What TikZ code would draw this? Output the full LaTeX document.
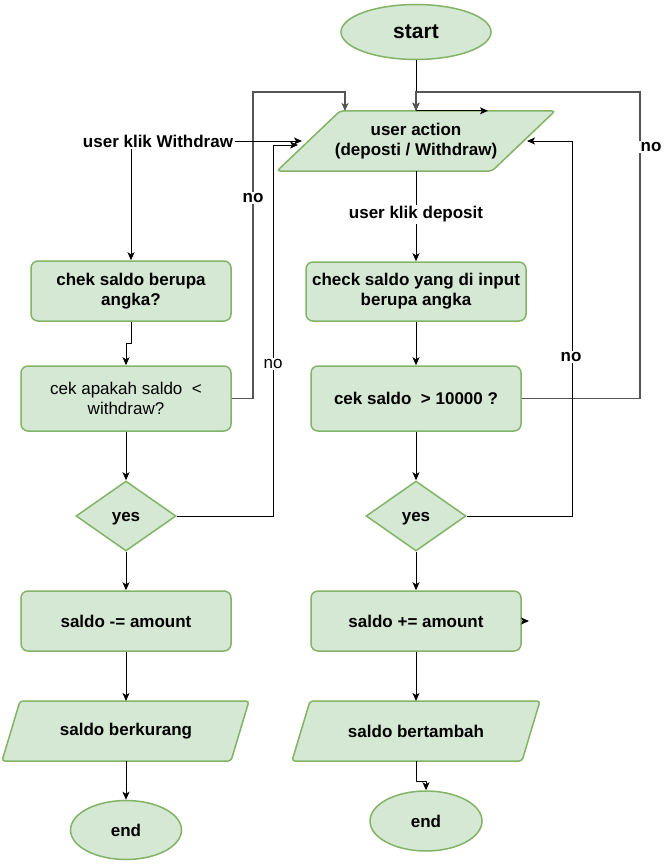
\documentclass[tikz,border=0pt]{standalone}
\usepackage{fontspec}
\setmainfont{Liberation Sans}
\usetikzlibrary{shapes.geometric,arrows.meta}
\definecolor{gfill}{HTML}{D5E8D4}
\definecolor{gline}{HTML}{82B366}
\definecolor{dline}{HTML}{555555}
\begin{document}
\begin{tikzpicture}[x=1pt,y=-1pt,
  every node/.style={font=\fontsize{17}{20}\selectfont},
  bx/.style={draw=gline,fill=gfill,line width=1.5pt,rounded corners=7pt,align=center,inner sep=0pt},
  bbx/.style={bx,font=\fontsize{17}{20}\selectfont\bfseries},
  term/.style={draw=gline,fill=gfill,line width=1.5pt,ellipse,inner sep=0pt,font=\fontsize{17}{20}\selectfont\bfseries},
  dia/.style={draw=gline,fill=gfill,line width=1.5pt,diamond,inner sep=0pt,minimum width=100,minimum height=70,text height=14pt,text depth=4pt,font=\fontsize{17}{20}\selectfont\bfseries},
  para/.style={draw=gline,fill=gfill,line width=1.5pt,rounded corners=3pt},
  ptext/.style={inner sep=0pt,align=center,font=\fontsize{17}{20}\selectfont\bfseries},
  lbl/.style={fill=white,inner sep=1.5pt,font=\fontsize{17}{20}\selectfont\bfseries},
  lbln/.style={fill=white,inner sep=1.5pt,font=\fontsize{17}{20}\selectfont},
  arr/.style={line width=1pt,-{Stealth[length=8pt,width=7pt,inset=2pt]}},
  garr/.style={arr,draw=dline,line width=1.3pt},
]
\useasboundingbox (0,0) rectangle (664,864);

% start
\node[term,minimum width=150,minimum height=55,font=\fontsize{21}{24}\selectfont\bfseries] (start) at (416,32) {start};

% user action parallelogram
\path[para] (277,171) -- (340,111) -- (555,111) -- (492,171) -- cycle;
\node[ptext,minimum width=150,minimum height=60] (ua) at (416,141) {user action\\(deposti / Withdraw)};

% boxes
\node[bbx,minimum width=200,minimum height=60] (cb1) at (131,291) {chek saldo berupa\\angka?};
\node[bbx,minimum width=220,minimum height=59] (cb2) at (416,291.5) {check saldo yang di input\\berupa angka};
\node[bx,minimum width=210,minimum height=65] (cek1) at (126,398.5) {cek apakah saldo\ \ <\\withdraw?};
\node[bbx,minimum width=210,minimum height=65] (cs2) at (416,398.5) {cek saldo\ \ > 10000 ?};
\node[dia] (dl) at (126,516) {yes};
\node[dia] (dr) at (416,516) {yes};
\node[bbx,minimum width=210,minimum height=60] (sm) at (126,621) {saldo -= amount};
\node[bbx,minimum width=210,minimum height=60] (sp) at (416,621) {saldo += amount};

% output parallelograms
\path[para] (2,761) -- (20,701) -- (249,701) -- (231,761) -- cycle;
\node[ptext,minimum width=150,minimum height=60] (pk1) at (126,731) {saldo berkurang};
\path[para] (292,761) -- (310,701) -- (540,701) -- (522,761) -- cycle;
\node[ptext,minimum width=150,minimum height=60] (pk2) at (416,731) {saldo bertambah};

% ends
\node[term,minimum width=111,minimum height=59] (e1) at (126,830) {end};
\node[term,minimum width=112,minimum height=60] (e2) at (426,821) {end};

% helper coordinates
\coordinate (uaTL) at (345,111);
\coordinate (uaL1) at (302,141);
\coordinate (uaL2) at (298,145);
\coordinate (uaR) at (527,141);
\coordinate (spstub) at (529,621);

% connectors
\draw[arr] (start) -- (ua.north);
\draw[arr] (ua.north) -- ++(72,0);
\draw[garr] (cs2.east) -| (640,92) -| (ua.north);
\draw[garr] (cek1.east) -| (253,92) -| (uaTL);
\draw[arr] (dl.east) -| (273,145) -- (uaL2);
\draw[arr] (dr.east) -| (572,141) -- (uaR);

\node[lbl] (uw) at (158,141) {user klik Withdraw};
\draw[arr] (uw.east) -- (uaL1);
\draw[arr] (uw.south -| cb1.north) -- (cb1.north);

\draw[arr] (ua.south) -- (cb2.north) node[lbl,pos=0.48] (ud) {user klik deposit};
\draw[arr] (cb1.south) -- ++(0,22) -| (cek1.north);
\draw[arr] (cb2) -- (cs2);
\draw[arr] (cek1) -- (dl);
\draw[arr] (cs2) -- (dr);
\draw[arr] (dl) -- (sm);
\draw[arr] (dr) -- (sp);
\draw[arr] (sp.east) -- (spstub);
\draw[arr] (sm.south) -- (126,701);
\draw[arr] (sp.south) -- (416,701);
\draw[arr] (126,761) -- (e1.north);
\draw[arr] (416,761) -- ++(0,20) -| (e2.north);

% no labels
\node[lbl] (no1) at (253,198) {no};
\node[lbln] (no2) at (273,364) {no};
\node[lbl] (no3) at (571,357) {no};
\node[lbl] (no4) at (651,147) {no};
\end{tikzpicture}
\end{document}
